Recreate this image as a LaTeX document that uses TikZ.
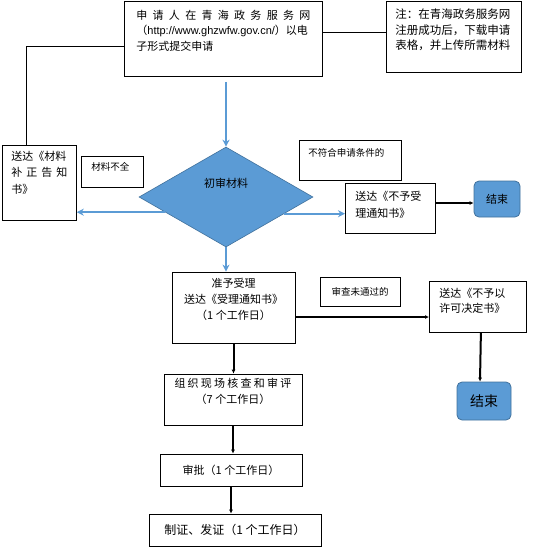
\documentclass[tikz,border=0pt]{standalone}
\usepackage{fontspec}
\setmainfont{Noto Sans CJK SC}
\newfontfamily\latin{Liberation Sans}
\usetikzlibrary{shapes.geometric,arrows.meta}
\definecolor{flowblue}{HTML}{5B9BD5}
\definecolor{edgeblue}{HTML}{41719C}
\tikzset{
  box/.style={draw,line width=0.8pt,inner sep=0pt},
  topbox/.style={box,anchor=north west,align=left,inner ysep=0pt},
  endbox/.style={draw=edgeblue,fill=flowblue,line width=0.8pt,rounded corners=5pt,inner sep=0pt},
  flow/.style={draw=flowblue,line width=2.4pt,-{Stealth[length=7pt,width=7pt]}},
  go/.style={draw,line width=2pt,-{Latex[length=4pt,width=4pt]}}
}
\begin{document}
\begin{tikzpicture}[x=1pt,y=-1pt,font=\fontsize{11}{15.5}\selectfont]
\useasboundingbox (0,0) rectangle (536,547);
% top row
\node[topbox,text width=174pt,inner xsep=12pt,text height=18pt,text depth=57pt] (apply) at (124,1)
  {\makebox[\linewidth][s]{申\hfill 请\hfill 人\hfill 在\hfill 青\hfill 海\hfill 政\hfill 务\hfill 服\hfill 务\hfill 网}\\
   （{\latin http://www.ghzwfw.gov.cn/}）以电\\ 子形式提交申请};
\node[topbox,text width=117pt,inner xsep=9pt,text height=17.5pt,text depth=53.5pt,font=\fontsize{11.5}{15.5}\selectfont] (note) at (386,1)
  {注：在青海政务服务网\\ 注册成功后，下载申请\\ 表格，并上传所需材料};
% check row
\node[topbox,text width=56pt,inner xsep=9pt,text height=15pt,text depth=60pt,font=\fontsize{11}{16.5}\selectfont] (supp) at (2,145)
  {送达《材料\\ \makebox[\linewidth][s]{补\hfill 正\hfill 告\hfill 知}\\ 书》};
\node[topbox,text width=42pt,inner xsep=10pt,text height=14.5pt,text depth=16.5pt,font=\fontsize{9.5}{12}\selectfont] (lack) at (81,156) {材料不全};
\node[diamond,draw=edgeblue,fill=flowblue,line width=0.6pt,minimum width=174pt,minimum height=100pt,inner sep=0pt,text depth=28pt] (check) at (226,197) {初审材料};
\node[topbox,text width=84pt,inner xsep=9pt,text height=16.5pt,text depth=23.5pt,font=\fontsize{9.5}{12}\selectfont] (unfit) at (299,140) {不符合申请条件的};
\node[topbox,text width=70pt,inner xsep=10pt,text height=17pt,text depth=33pt,font=\fontsize{11}{17}\selectfont] (refuse) at (345,183)
  {送达《不予受\\ 理通知书》};
\node[endbox,minimum width=46pt,minimum height=36pt] (end1) at (497,199) {结束};
% accept row
\node[box,align=center,minimum width=123pt,minimum height=71pt,font=\fontsize{11}{16}\selectfont] (accept) at (233.5,307.5)
  {准予受理\\ 送达《受理通知书》\\ （1 个工作日）\\[2pt]};
\node[box,minimum width=80pt,minimum height=29pt,font=\fontsize{9.5}{12}\selectfont] (notpass) at (360,291.5) {审查未通过的};
\node[topbox,text width=77pt,inner xsep=10pt,text height=16pt,text depth=35pt,font=\fontsize{11}{15}\selectfont] (permit) at (429,281)
  {送达《不予以\\ 许可决定书》};
\node[endbox,minimum width=54pt,minimum height=38pt,font=\fontsize{14}{16}\selectfont] (end2) at (484,401) {结束};
% lower steps
\node[box,align=center,minimum width=138pt,minimum height=51pt] (review) at (233,399.5)
  {\makebox[117pt][s]{组\hfill 织\hfill 现\hfill 场\hfill 核\hfill 查\hfill 和\hfill 审\hfill 评}\\ （7 个工作日）\\[2pt]};
\node[box,minimum width=142pt,minimum height=32pt] (approve) at (231,470) {审批（1 个工作日）};
\node[box,minimum width=172pt,minimum height=32pt,font=\fontsize{12}{15}\selectfont] (issue) at (235,530) {制证、发证（1 个工作日）};
% connectors
\coordinate (bend) at (26,46);
\draw[line width=0.8pt] (bend -| apply.west) -- (bend) -- (bend |- supp.north);
\draw[line width=0.8pt] (apply.east |- 0,32) -- (note.west |- 0,32);
\draw[flow] (check.north |- apply.south) ++(0,5) -- (check.north);
\draw[flow] (check.194) -- (check.194 -| supp.east);
\draw[flow] (check.-16.5) -- (check.-16.5 -| refuse.west);
\draw[flow] (check.south) -- (check.south |- accept.north);
\draw[go] (refuse.east |- 0,203) -- (end1.west |- 0,203);
\draw[go] (accept.east |- 0,317) -- (permit.west |- 0,317);
\draw[go] (permit.south) ++(3,0) -- (480,0 |- end2.north);
\draw[go] (accept.south) -- (accept.south |- review.north);
\draw[go] (review.south) -- (review.south |- approve.north);
\draw[go] (approve.south) -- (approve.south |- issue.north);
\end{tikzpicture}
\end{document}
